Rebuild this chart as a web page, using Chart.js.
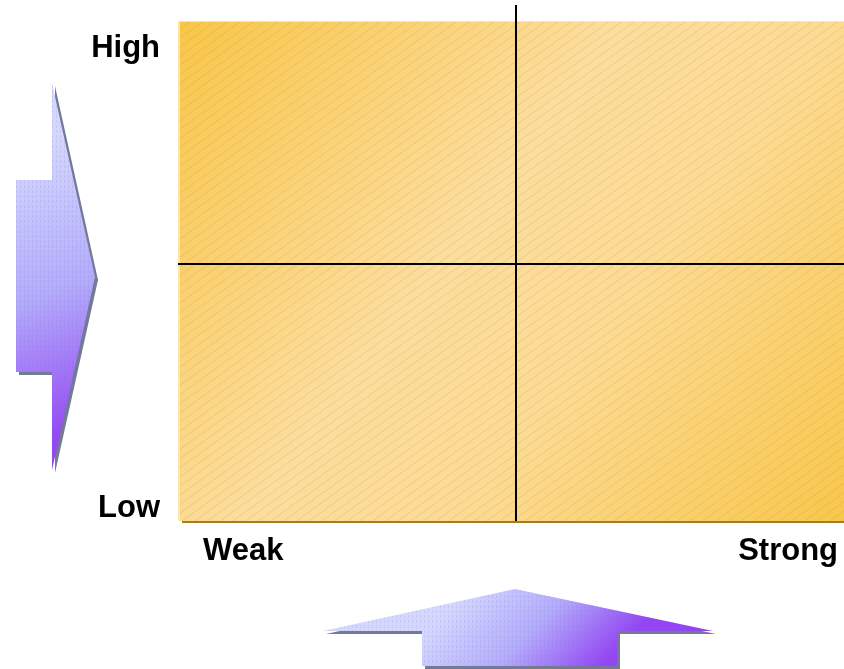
<!DOCTYPE html>
<html>
<head>
<meta charset="utf-8">
<script src="https://cdn.jsdelivr.net/npm/chart.js@4/dist/chart.umd.min.js"></script>
<style>
  html, body { margin: 0; padding: 0; background: #fff; overflow: hidden; }
  canvas { display: block; }
</style>
</head>
<body>
<canvas id="matrix" width="844" height="669"></canvas>
<script>
// axis ends
const xSides = ['Weak', 'Strong'];
const ySides = ['Low', 'High'];

// quadrant dividers (scale units 0..100)
const vDivider = [{ x: 50.75, y: 0 }, { x: 50.75, y: 103.2 }];
const hDivider = [{ x: 0, y: 51.4 }, { x: 100, y: 51.4 }];

const labelFont = 'bold 31px "Liberation Sans", Arial, sans-serif';

// filled box behind the quadrants, with hatching and a drop line
const boxBackground = {
  id: 'boxBackground',
  beforeDatasetsDraw(chart) {
    const { ctx, chartArea: a } = chart;
    const w = a.right - a.left, h = a.bottom - a.top;
    ctx.save();

    // bottom shadow
    ctx.fillStyle = '#a47c22';
    ctx.fillRect(a.left + 4, a.bottom, w, 2);

    const g = ctx.createLinearGradient(a.left, a.top, a.right, a.bottom);
    g.addColorStop(0, '#f8c648');
    g.addColorStop(0.42, '#fcdd9d');
    g.addColorStop(0.62, '#fcdb95');
    g.addColorStop(1, '#f8c74c');
    ctx.fillStyle = g;
    ctx.fillRect(a.left, a.top, w, h);

    // diagonal hatch
    ctx.beginPath();
    ctx.rect(a.left, a.top, w, h);
    ctx.clip();
    ctx.strokeStyle = 'rgba(185, 135, 50, 0.2)';
    ctx.lineWidth = 1;
    const run = h / 0.72;
    ctx.beginPath();
    for (let x = a.left - run; x < a.right; x += 12.7) {
      ctx.moveTo(x, a.bottom);
      ctx.lineTo(x + run, a.top);
    }
    ctx.stroke();

    // light edges on left and top
    ctx.fillStyle = 'rgba(254, 232, 170, 0.9)';
    ctx.fillRect(a.left, a.top, 2, h);
    ctx.fillRect(a.left, a.top, w, 1);
    ctx.restore();
  }
};

function arrow(ctx, pts, grad, from, to) {
  ctx.save();
  // shadow
  ctx.beginPath();
  pts.forEach(([x, y], i) => i ? ctx.lineTo(x + 3, y + 3) : ctx.moveTo(x + 3, y + 3));
  ctx.closePath();
  ctx.fillStyle = '#737a96';
  ctx.fill();

  const g = ctx.createLinearGradient(from[0], from[1], to[0], to[1]);
  grad.forEach(([s, c]) => g.addColorStop(s, c));
  ctx.beginPath();
  pts.forEach(([x, y], i) => i ? ctx.lineTo(x, y) : ctx.moveTo(x, y));
  ctx.closePath();
  ctx.fillStyle = g;
  ctx.fill();

  // faint dash texture
  ctx.clip();
  ctx.strokeStyle = 'rgba(120, 110, 200, 0.16)';
  ctx.lineWidth = 1;
  ctx.setLineDash([3, 2]);
  ctx.beginPath();
  for (let x = 0; x < 844; x += 4) {
    ctx.moveTo(x + 0.5, 0);
    ctx.lineTo(x + 0.5, 669);
  }
  ctx.stroke();
  ctx.restore();
}

// direction arrows and the axis end labels
const sideDecor = {
  id: 'sideDecor',
  afterDraw(chart) {
    const { ctx, chartArea: a } = chart;
    const stops = [[0, '#d4d8fd'], [0.5, '#b3acfb'], [1, '#9444f4']];

    arrow(ctx,
      [[16, 180], [52, 180], [52, 83], [95, 277], [52, 470], [52, 372], [16, 372]],
      stops, [10, 150], [100, 430]);
    arrow(ctx,
      [[323, 631], [515, 589], [713, 631], [617, 631], [617, 666], [422, 666], [422, 631]],
      stops, [470, 585], [580, 690]);

    ctx.save();
    ctx.font = labelFont;
    ctx.fillStyle = '#000';
    ctx.textBaseline = 'alphabetic';
    ctx.textAlign = 'right';
    ctx.fillText(ySides[1], a.left - 18, a.top + 36);
    ctx.fillText(ySides[0], a.left - 18, a.bottom - 4);
    ctx.textAlign = 'left';
    ctx.fillText(xSides[0], a.left + 25, a.bottom + 39);
    ctx.textAlign = 'right';
    ctx.fillText(xSides[1], a.right - 6, a.bottom + 39);
    ctx.restore();
  }
};

new Chart(document.getElementById('matrix'), {
  type: 'scatter',
  data: {
    datasets: [
      { data: vDivider, showLine: true },
      { data: hDivider, showLine: true }
    ]
  },
  options: {
    responsive: false,
    animation: false,
    clip: false,
    layout: { padding: { left: 178, top: 21, right: 0, bottom: 148 } },
    elements: {
      point: { radius: 0, hoverRadius: 0 },
      line: { borderColor: '#000', borderWidth: 2 }
    },
    scales: {
      x: { type: 'linear', min: 0, max: 100, display: false },
      y: { type: 'linear', min: 0, max: 100, display: false }
    },
    plugins: { legend: { display: false }, tooltip: { enabled: false } }
  },
  plugins: [boxBackground, sideDecor]
});
</script>
</body>
</html>
